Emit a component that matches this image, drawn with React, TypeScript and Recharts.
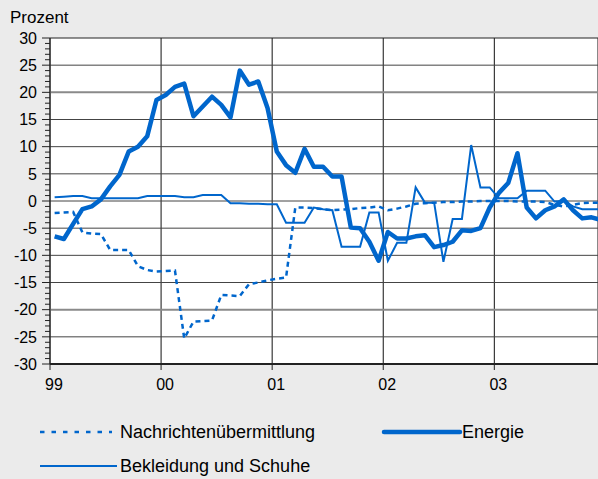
import React from 'react';
import { LineChart, Line, XAxis, YAxis, CartesianGrid, Legend } from 'recharts';

const yearLabels = ['99', '00', '01', '02', '03'];
const yearTicks = [0, 12, 24, 36, 48];

const nachrichten = [
  -2.2, -2.1, -2.0, -5.8, -6.0, -6.1, -9.0, -9.0, -9.0, -12,
  -12.7, -13, -12.9, -12.8, -25.3, -22.2, -22.1, -22, -17.3, -17.4,
  -17.5, -15.3, -15, -14.6, -14.3, -14.1, -1.2, -1.2, -1.3, -1.5,
  -1.7, -1.6, -1.5, -1.3, -1.2, -1.0, -1.7, -1.4, -1.0, -0.5,
  -0.4, -0.3, -0.2, -0.2, -0.1, -0.1, 0, 0, 0, 0,
  -0.1, -0.1, -0.1, -0.2, -0.7, -1.0, -0.7, -0.4, -0.3, -0.3,
];

const energie = [
  -6.5, -7, -4.2, -1.5, -1, 0.3, 2.7, 4.8, 9.1, 10,
  11.9, 18.6, 19.5, 21, 21.6, 15.6, 17.4, 19.2, 17.7, 15.4,
  24, 21.4, 22, 17.1, 9.1, 6.6, 5.2, 9.6, 6.3, 6.3,
  4.5, 4.5, -4.9, -5, -7.5, -11, -5.7, -6.9, -6.9, -6.5,
  -6.3, -8.5, -8.1, -7.5, -5.4, -5.5, -5.0, -1.2, 1.5, 3.3,
  8.8, -1.2, -3.2, -1.7, -1.0, 0.3, -1.7, -3.2, -3.0, -3.5,
];

const bekleidung = [
  0.7, 0.8, 0.9, 0.9, 0.5, 0.5, 0.5, 0.5, 0.5, 0.5,
  0.9, 0.9, 0.9, 0.9, 0.7, 0.7, 1.1, 1.1, 1.1, -0.4,
  -0.4, -0.5, -0.5, -0.6, -0.6, -4, -4, -4, -1.2, -1.5,
  -1.7, -8.4, -8.4, -8.4, -2.1, -2.1, -11, -7.7, -7.7, 2.5,
  -0.3, -0.3, -11.2, -3.3, -3.3, 10.3, 2.5, 2.5, 0.5, 0.5,
  0.5, 1.9, 1.9, 1.9, -0.1, 0, -1.0, -1.5, -1.5, -1.5,
];

const yMajorTicks = [-30, -25, -20, -15, -10, -5, 0, 5, 10, 15, 20, 25, 30];
const yAllTicks: number[] = [];
for (let v = -30; v <= 30; v++) yAllTicks.push(v);
const gridNormal = [-25, -15, -10, -5, 0, 5, 10, 15, 25];
const gridLight = [-20, 20];
const gridTop = [30];

const data = energie.map((_, i) => ({
  x: i + 0.5,
  nachrichten: nachrichten[i],
  energie: energie[i],
  bekleidung: bekleidung[i],
}));

const BLUE = '#0066cc';
const FONT = '"Liberation Sans", Arial, sans-serif';

const YTick = (props: any) => {
  const { x, y, payload } = props;
  const v = payload.value;
  const major = yMajorTicks.includes(v);
  return (
    <g>
      <line x1={x - (major ? 8 : 5)} x2={x} y1={y} y2={y} stroke="#222" strokeWidth={1} />
      {major && (
        <text x={x - 13} y={y} dy="0.36em" textAnchor="end" fontSize={16} fill="#000" fontFamily={FONT}>
          {v}
        </text>
      )}
    </g>
  );
};

const LegendContent = () => (
  <svg width={598} height={64} style={{ display: 'block' }}>
    <line x1={40} x2={112} y1={17} y2={17} stroke={BLUE} strokeWidth={2.5} strokeDasharray="4.5 7" />
    <text x={120} y={17} dy="0.36em" fontSize={18} fontFamily={FONT} fill="#000">Nachrichtenübermittlung</text>
    <line x1={384} x2={460} y1={17} y2={17} stroke={BLUE} strokeWidth={4.5} strokeLinecap="round" />
    <text x={462} y={17} dy="0.36em" fontSize={18} fontFamily={FONT} fill="#000">Energie</text>
    <line x1={40} x2={117} y1={51} y2={51} stroke={BLUE} strokeWidth={2} />
    <text x={120} y={51} dy="0.36em" fontSize={18} fontFamily={FONT} fill="#000">Bekleidung und Schuhe</text>
  </svg>
);

export default function App() {
  return (
    <div style={{ position: 'absolute', left: 0, top: 0, width: 598, height: 479, background: '#ebebeb', overflow: 'hidden' }}>
      <div style={{ position: 'absolute', left: 10, top: 8, fontSize: 17, fontFamily: FONT, color: '#000' }}>Prozent</div>
      <LineChart width={598} height={479} data={data} margin={{ top: 38, right: 0, bottom: 0, left: 0 }}>
        <CartesianGrid horizontal={false} vertical={true} stroke="#111" fill="#ffffff" strokeOpacity={1} />
        <CartesianGrid horizontal={true} vertical={false} horizontalValues={gridNormal} stroke="#444" />
        <CartesianGrid horizontal={true} vertical={false} horizontalValues={gridLight} stroke="#8a8a8a" strokeWidth={2} />
        <CartesianGrid horizontal={true} vertical={false} horizontalValues={gridTop} stroke="#222" />
        <XAxis
          type="number"
          dataKey="x"
          domain={[0, 59.2]}
          allowDataOverflow
          ticks={yearTicks}
          interval={0}
          tickFormatter={(v: number) => yearLabels[yearTicks.indexOf(v)]}
          height={115}
          tickSize={6}
          tickMargin={9}
          axisLine={{ stroke: '#222', strokeWidth: 2 }}
          tickLine={{ stroke: '#222' }}
          tick={{ fill: '#000', fontSize: 16, fontFamily: FONT, dx: 4 }}
        />
        <YAxis
          type="number"
          domain={[-30, 30]}
          ticks={yAllTicks}
          interval={0}
          width={50}
          tickSize={0}
          tickMargin={0}
          tickLine={false}
          axisLine={{ stroke: '#222' }}
          tick={<YTick />}
        />
        <Legend
          layout="horizontal"
          align="center"
          verticalAlign="middle"
          wrapperStyle={{ position: 'absolute', left: 0, top: 415, width: 598, height: 64 }}
          content={<LegendContent />}
        />
        <Line type="linear" dataKey="nachrichten" stroke={BLUE} strokeWidth={2.5} strokeDasharray="5 4" dot={false} isAnimationActive={false} />
        <Line type="linear" dataKey="bekleidung" stroke={BLUE} strokeWidth={2} dot={false} isAnimationActive={false} />
        <Line type="linear" dataKey="energie" stroke={BLUE} strokeWidth={4.5} dot={false} isAnimationActive={false} strokeLinejoin="round" />
      </LineChart>
    </div>
  );
}
